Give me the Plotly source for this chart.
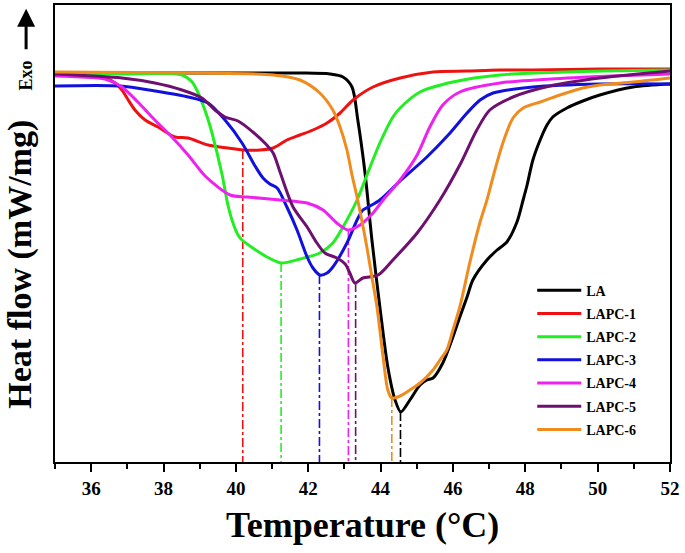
import plotly.graph_objects as go

# ---- data (temperature in °C, heat flow in arbitrary mW/mg units) ----
names = ["LA", "LAPC-1", "LAPC-2", "LAPC-3", "LAPC-4", "LAPC-5", "LAPC-6"]
colors = ["#000000", "#ee1111", "#22ee22", "#1111dd", "#ee22ee", "#6e1070", "#f08c1e"]

la_T = [35.00, 39.01, 41.77, 42.60, 42.96, 43.21, 43.37, 43.57, 43.76, 43.98, 44.20, 44.40, 44.56, 44.81, 45.09, 45.28, 45.45, 45.72, 46.00, 46.19, 46.39, 46.55, 46.94, 47.22, 47.49, 47.77, 47.94, 48.05, 48.21, 48.41, 48.60, 48.76, 49.15, 49.59, 50.06, 50.98, 52.00]
la_hf = [0, 0, 0, -0.01, -0.04, -0.14, -0.47, -1.00, -1.67, -2.34, -2.94, -3.27, -3.39, -3.27, -3.12, -3.07, -3.05, -2.90, -2.64, -2.44, -2.24, -2.07, -1.87, -1.77, -1.69, -1.49, -1.27, -1.12, -0.87, -0.67, -0.52, -0.44, -0.35, -0.28, -0.22, -0.14, -0.11]

lapc1_T = [35.00, 35.69, 36.38, 36.66, 36.85, 36.99, 37.21, 37.49, 37.85, 38.32, 38.68, 39.23, 39.78, 40.20, 40.67, 41.03, 41.41, 41.77, 42.13, 42.52, 42.88, 43.24, 43.79, 44.54, 45.45, 46.39, 47.30, 48.21, 50.06, 52.00]
lapc1_hf = [-0.01, -0.02, -0.05, -0.10, -0.17, -0.25, -0.37, -0.47, -0.54, -0.64, -0.65, -0.72, -0.75, -0.77, -0.77, -0.75, -0.67, -0.62, -0.57, -0.50, -0.40, -0.27, -0.14, -0.05, 0.01, 0.02, 0.03, 0.03, 0.04, 0.04]

lapc2_T = [35.00, 36.80, 38.51, 38.79, 38.92, 39.06, 39.20, 39.34, 39.62, 39.78, 39.92, 40.06, 40.17, 40.47, 40.86, 41.25, 41.77, 42.32, 42.68, 42.96, 43.35, 43.71, 43.98, 44.34, 44.54, 45.09, 46.00, 47.30, 49.15, 52.00]
lapc2_hf = [0, -0.01, -0.02, -0.09, -0.17, -0.29, -0.43, -0.60, -1.02, -1.32, -1.50, -1.62, -1.67, -1.75, -1.84, -1.90, -1.86, -1.80, -1.70, -1.54, -1.27, -0.94, -0.70, -0.44, -0.35, -0.19, -0.09, -0.02, 0.01, 0.03]

lapc3_T = [35.00, 36.80, 37.76, 38.68, 39.23, 39.70, 40.17, 40.53, 40.75, 40.94, 41.14, 41.41, 41.69, 41.97, 42.13, 42.32, 42.52, 42.68, 43.07, 43.35, 43.51, 43.71, 43.98, 44.54, 45.28, 45.92, 46.39, 46.75, 47.11, 48.21, 50.06, 52.00]
lapc3_hf = [-0.13, -0.13, -0.18, -0.24, -0.30, -0.47, -0.70, -0.93, -1.05, -1.11, -1.15, -1.34, -1.57, -1.84, -1.95, -2.02, -2.00, -1.94, -1.70, -1.47, -1.37, -1.33, -1.27, -1.08, -0.84, -0.60, -0.40, -0.27, -0.20, -0.14, -0.11, -0.11]

lapc4_T = [35.00, 35.69, 36.38, 36.85, 37.29, 37.76, 38.23, 38.68, 39.15, 39.84, 40.31, 41.22, 41.97, 42.41, 42.79, 43.10, 43.43, 43.79, 44.07, 44.54, 45.01, 45.36, 45.72, 46.19, 47.30, 49.15, 52.00]
lapc4_hf = [-0.03, -0.04, -0.06, -0.14, -0.29, -0.47, -0.64, -0.82, -1.03, -1.22, -1.24, -1.27, -1.30, -1.37, -1.50, -1.57, -1.52, -1.40, -1.27, -1.07, -0.82, -0.54, -0.32, -0.19, -0.10, -0.05, -0.01]

lapc5_T = [35.00, 36.85, 37.76, 38.51, 39.06, 39.42, 39.70, 40.06, 40.47, 40.80, 41.03, 41.22, 41.58, 41.97, 42.24, 42.46, 42.79, 43.02, 43.15, 43.29, 43.51, 43.93, 44.34, 45.01, 45.64, 46.19, 46.66, 47.02, 47.66, 48.68, 50.06, 52.00]
lapc5_hf = [-0.01, -0.05, -0.10, -0.17, -0.25, -0.37, -0.44, -0.48, -0.59, -0.70, -0.80, -0.99, -1.34, -1.54, -1.70, -1.80, -1.85, -1.91, -2.00, -2.10, -2.05, -2.02, -1.87, -1.60, -1.27, -0.92, -0.57, -0.37, -0.24, -0.13, -0.05, 0.02]

lapc6_T = [35.00, 39.01, 41.03, 41.77, 42.32, 42.68, 42.88, 43.07, 43.21, 43.35, 43.49, 43.62, 43.76, 43.90, 44.07, 44.20, 44.31, 44.54, 44.81, 45.09, 45.45, 45.64, 45.83, 46.00, 46.19, 46.47, 46.75, 46.94, 47.16, 47.38, 47.66, 47.94, 48.41, 48.96, 49.59, 50.06, 50.98, 52.00]
lapc6_hf = [0.01, 0, -0.02, -0.07, -0.20, -0.37, -0.54, -0.77, -1.02, -1.24, -1.49, -1.74, -2.04, -2.34, -2.84, -3.17, -3.25, -3.23, -3.17, -3.10, -2.97, -2.87, -2.77, -2.57, -2.34, -1.89, -1.49, -1.27, -0.97, -0.70, -0.45, -0.35, -0.29, -0.22, -0.15, -0.12, -0.09, -0.05]

# peak temperatures (dash-dot markers) and peak heat flow
peak_T = [44.55, 40.19, 41.25, 42.31, 43.11, 43.31, 44.31]
peak_hf = [-3.39, -0.77, -1.90, -2.02, -1.57, -2.10, -3.25]

x_range = [35, 52]
y_range = [-3.89, 0.68]
x_ticks = [36, 38, 40, 42, 44, 46, 48, 50, 52]

series_T = [la_T, lapc1_T, lapc2_T, lapc3_T, lapc4_T, lapc5_T, lapc6_T]
series_hf = [la_hf, lapc1_hf, lapc2_hf, lapc3_hf, lapc4_hf, lapc5_hf, lapc6_hf]

FONT = "Liberation Serif"

fig = go.Figure()

# dash-dot peak lines (drawn first, underneath the curves)
for i in range(len(names)):
    fig.add_trace(go.Scatter(
        x=[peak_T[i], peak_T[i]], y=[peak_hf[i], y_range[0]],
        mode="lines", line=dict(color=colors[i], width=1.6, dash="dashdot"),
        showlegend=False, hoverinfo="skip"))

for i in range(len(names)):
    fig.add_trace(go.Scatter(
        x=series_T[i], y=series_hf[i], name=names[i], legendgroup=names[i],
        mode="lines", line=dict(color=colors[i], width=3, shape="spline", smoothing=0.8)))

fig.update_layout(
    width=685, height=553,
    margin=dict(l=55, r=15, t=5, b=91),
    paper_bgcolor="white", plot_bgcolor="white",
    font=dict(family=FONT, color="black"),
    showlegend=True,
    legend=dict(
        x=0.776, y=0.41, xanchor="left", yanchor="top",
        bgcolor="rgba(0,0,0,0)", borderwidth=0,
        font=dict(family=FONT, size=14, color="black", weight="bold"),
        tracegroupgap=2, traceorder="grouped", itemwidth=44,
    ),
    xaxis=dict(
        range=x_range, tickvals=x_ticks, ticks="outside", ticklen=8, tickwidth=2,
        tickcolor="black", showline=True, linecolor="black", linewidth=2, mirror=True,
        showgrid=False, zeroline=False, automargin=False,
        tickfont=dict(family=FONT, size=19, color="black", weight="bold"),
        minor=dict(ticks="outside", ticklen=5, tickwidth=2, tickcolor="black", dtick=1, showgrid=False),
    ),
    yaxis=dict(
        range=y_range, showticklabels=False, ticks="", showline=True, linecolor="black",
        linewidth=2, mirror=True, showgrid=False, zeroline=False, automargin=False,
    ),
    annotations=[
        dict(text="Temperature (°C)", xref="paper", yref="paper", x=0.5, y=-0.138,
             xanchor="center", yanchor="middle", showarrow=False,
             font=dict(family=FONT, size=36, color="black", weight="bold")),
        dict(text="Heat flow (mW/mg)", xref="paper", yref="paper", x=-0.056, y=0.433,
             xanchor="center", yanchor="middle", textangle=-90, showarrow=False,
             font=dict(family=FONT, size=34, color="black", weight="bold")),
        dict(text="Exo", xref="paper", yref="paper", x=-0.047, y=0.846,
             xanchor="center", yanchor="middle", textangle=-90, showarrow=False,
             font=dict(family=FONT, size=18, color="black", weight="bold")),
        dict(text="", xref="paper", yref="paper", x=-0.047, y=0.992,
             ax=0, ay=42, showarrow=True, arrowhead=2, arrowsize=1.2, arrowwidth=3,
             arrowcolor="black"),
    ],
)

fig.write_html("out.html", config={"displayModeBar": False},
               post_script="document.body.style.margin='0';")
